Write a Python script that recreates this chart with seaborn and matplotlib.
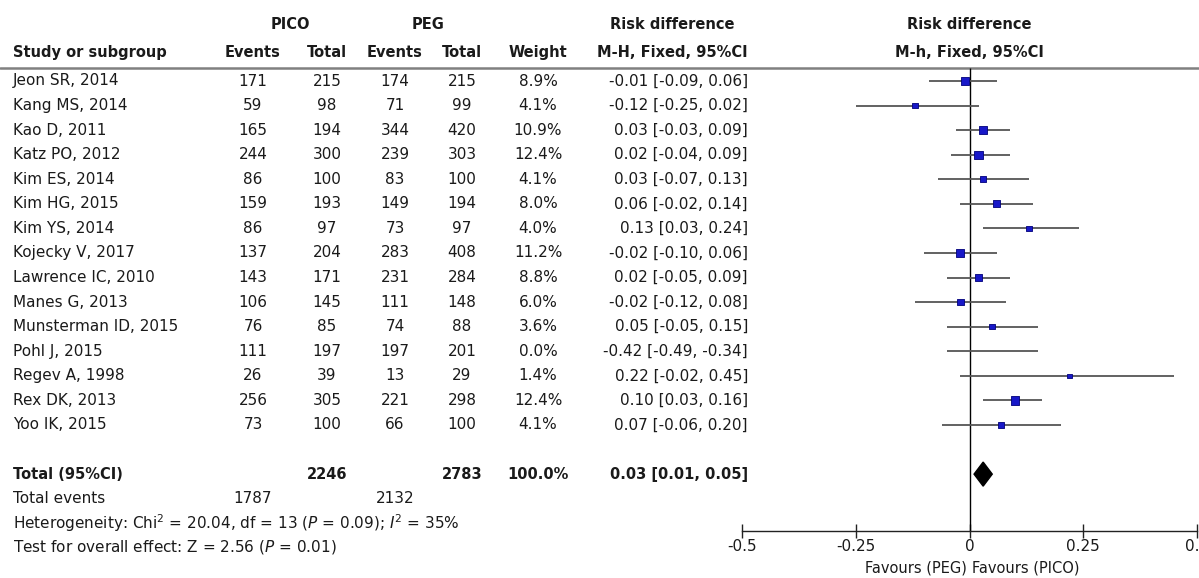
import numpy as np
import pandas as pd
import matplotlib
matplotlib.use("Agg")
import matplotlib.pyplot as plt
from matplotlib.patches import Polygon
import seaborn as sns

# Study-level data (PICO vs PEG)
studies = ["Jeon SR, 2014", "Kang MS, 2014", "Kao D, 2011", "Katz PO, 2012",
           "Kim ES, 2014", "Kim HG, 2015", "Kim YS, 2014", "Kojecky V, 2017",
           "Lawrence IC, 2010", "Manes G, 2013", "Munsterman ID, 2015",
           "Pohl J, 2015", "Regev A, 1998", "Rex DK, 2013", "Yoo IK, 2015"]
pico_events = [171, 59, 165, 244, 86, 159, 86, 137, 143, 106, 76, 111, 26, 256, 73]
pico_total = [215, 98, 194, 300, 100, 193, 97, 204, 171, 145, 85, 197, 39, 305, 100]
peg_events = [174, 71, 344, 239, 83, 149, 73, 283, 231, 111, 74, 197, 13, 221, 66]
peg_total = [215, 99, 420, 303, 100, 194, 97, 408, 284, 148, 88, 201, 29, 298, 100]
weight = [8.9, 4.1, 10.9, 12.4, 4.1, 8.0, 4.0, 11.2, 8.8, 6.0, 3.6, 0.0, 1.4, 12.4, 4.1]
rd = [-0.01, -0.12, 0.03, 0.02, 0.03, 0.06, 0.13, -0.02, 0.02, -0.02, 0.05, -0.42, 0.22, 0.10, 0.07]
rd_lo = [-0.09, -0.25, -0.03, -0.04, -0.07, -0.02, 0.03, -0.10, -0.05, -0.12, -0.05, -0.49, -0.02, 0.03, -0.06]
rd_hi = [0.06, 0.02, 0.09, 0.09, 0.13, 0.14, 0.24, 0.06, 0.09, 0.08, 0.15, -0.34, 0.45, 0.16, 0.20]
# whiskers as drawn in the picture (Pohl's line is drawn where Munsterman's is)
line_lo = [-0.09, -0.25, -0.03, -0.04, -0.07, -0.02, 0.03, -0.10, -0.05, -0.12, -0.05, -0.05, -0.02, 0.03, -0.06]
line_hi = [0.06, 0.02, 0.09, 0.09, 0.13, 0.14, 0.24, 0.06, 0.09, 0.08, 0.15, 0.15, 0.45, 0.16, 0.20]

# Pooled result
total_pico, total_peg = 2246, 2783
total_weight = 100.0
events_pico, events_peg = 1787, 2132
total_rd, total_lo, total_hi = 0.03, 0.01, 0.05
het_text = "Heterogeneity: Chi$^2$ = 20.04, df = 13 ($P$ = 0.09); $I^2$ = 35%"
test_text = "Test for overall effect: Z = 2.56 ($P$ = 0.01)"

ticks = [-0.5, -0.25, 0, 0.25, 0.5]
tick_labels = ["-0.5", "-0.25", "0", "0.25", "0.5"]

sns.set_theme(style="white")
plt.rcParams["font.family"] = ["DejaVu Sans"]
plt.rcParams["mathtext.fontset"] = "dejavusans"

W, H = 1199, 578
fig = plt.figure(figsize=(W / 100, H / 100), dpi=100)

# row units: pixel y = 81 + 24.57 * row
y_top, y_bot = -81 / 24.57, (H - 81) / 24.57
tab = fig.add_axes([0, 0, 1, 1])
tab.set_xlim(0, W)
tab.set_ylim(y_bot, y_top)
tab.axis("off")

txt = "#1a1a1a"
fs = 11
fs_b = 10.5
n = len(studies)
rows = np.arange(n)

# headers
hdr = dict(fontsize=fs_b, fontweight="bold", color=txt, va="center")
tab.text(290, -2.28, "PICO", ha="center", **hdr)
tab.text(428, -2.28, "PEG", ha="center", **hdr)
tab.text(672, -2.28, "Risk difference", ha="center", **hdr)
tab.text(969, -2.28, "Risk difference", ha="center", **hdr)
tab.text(13, -1.14, "Study or subgroup", ha="left", **hdr)
for x, lab in zip([253, 327, 395, 462, 538], ["Events", "Total", "Events", "Total", "Weight"]):
    tab.text(x, -1.14, lab, ha="center", **hdr)
tab.text(672, -1.14, "M-H, Fixed, 95%CI", ha="center", **hdr)
tab.text(969, -1.14, "M-h, Fixed, 95%CI", ha="center", **hdr)
tab.axhline(-0.53, color="#808080", lw=1.8)

# study rows
body = dict(fontsize=fs, color=txt, va="center")
for i in rows:
    tab.text(13, i, studies[i], ha="left", **body)
    tab.text(253, i, str(pico_events[i]), ha="center", **body)
    tab.text(327, i, str(pico_total[i]), ha="center", **body)
    tab.text(395, i, str(peg_events[i]), ha="center", **body)
    tab.text(462, i, str(peg_total[i]), ha="center", **body)
    tab.text(538, i, f"{weight[i]:.1f}%", ha="center", **body)
    tab.text(748, i, f"{rd[i]:.2f} [{rd_lo[i]:.2f}, {rd_hi[i]:.2f}]", ha="right", **body)

# totals
r_tot = 16
bold = dict(fontsize=fs_b, color=txt, va="center", fontweight="bold")
tab.text(13, r_tot, "Total (95%CI)", ha="left", **bold)
tab.text(327, r_tot, str(total_pico), ha="center", **bold)
tab.text(462, r_tot, str(total_peg), ha="center", **bold)
tab.text(538, r_tot, f"{total_weight:.1f}%", ha="center", **bold)
tab.text(748, r_tot, f"{total_rd:.2f} [{total_lo:.2f}, {total_hi:.2f}]", ha="right", **bold)
tab.text(13, r_tot + 1, "Total events", ha="left", **body)
tab.text(253, r_tot + 1, str(events_pico), ha="center", **body)
tab.text(395, r_tot + 1, str(events_peg), ha="center", **body)
tab.text(13, r_tot + 1.98, het_text, ha="left", **body)
tab.text(13, r_tot + 2.98, test_text, ha="left", **body)

# forest panel
axis_row = (531 - 81) / 24.57
fax = fig.add_axes([742 / W, 0, 455 / W, 1])
fax.set_facecolor("none")
fax.set_xlim(-0.5, 0.5)
fax.set_ylim(y_bot, y_top)
for s in ["left", "right", "top"]:
    fax.spines[s].set_visible(False)
fax.spines["bottom"].set_position(("data", axis_row))
fax.spines["bottom"].set_color("#222222")
fax.spines["bottom"].set_linewidth(1.0)
fax.set_yticks([])
fax.set_xticks(ticks)
fax.set_xticklabels(tick_labels)
fax.tick_params(axis="x", direction="inout", length=10, width=1.0, color="#222222",
                pad=1, labelsize=fs, labelcolor=txt, bottom=True)

fax.vlines(0, -0.53, axis_row, color="black", lw=1.0, zorder=2)
fax.hlines(rows, line_lo, line_hi, color="#555555", lw=1.3, zorder=2)

df = pd.DataFrame({"rd": rd, "row": rows, "weight": weight})
df = df[df["weight"] > 0]
sns.scatterplot(data=df, x="rd", y="row", size="weight", sizes=(8, 36), size_norm=(0, 12.4),
                marker="s", color="#1818c8", edgecolor="#00007a", linewidth=0.6,
                legend=False, ax=fax, zorder=3)
fax.set_xlabel("")
fax.set_ylabel("")

h = 0.49
fax.add_patch(Polygon([(total_lo, r_tot), (total_rd, r_tot - h), (total_hi, r_tot), (total_rd, r_tot + h)],
                      closed=True, facecolor="black", edgecolor="black", zorder=4))

fav_row = (568 - 81) / 24.57
fav = dict(fontsize=10.5, color=txt, va="center")
fax.text(-0.006, fav_row, "Favours (PEG)", ha="right", **fav)
fax.text(0.006, fav_row, "Favours (PICO)", ha="left", **fav)

fig.savefig("out.png", dpi=100)
